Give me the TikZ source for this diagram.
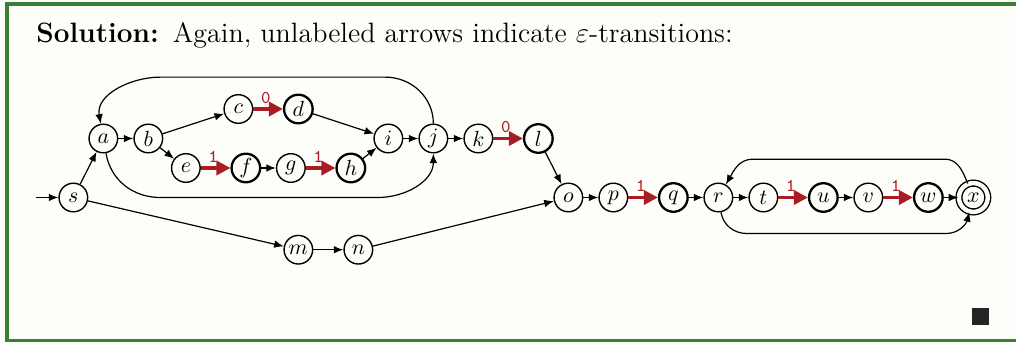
\documentclass[tikz,border=0pt]{standalone}
\usepackage{amsmath}
\usepackage{amssymb}
\usetikzlibrary{arrows.meta}
\usetikzlibrary{calc}
\definecolor{framegreen}{RGB}{58,128,52}
\definecolor{symbred}{RGB}{168,28,36}
\definecolor{paper}{RGB}{253,253,249}

\begin{document}
\begin{tikzpicture}[x=7.5pt,y=14.75pt,
    state/.style={circle,draw,line width=0.7pt,minimum size=14.3pt,inner sep=0pt,fill=paper,font=\fontsize{11}{13}\selectfont},
    boldstate/.style={state,line width=1.15pt},
    acceptstate/.style={state,minimum size=14.4pt,double=paper,line width=0.7pt,double distance=2.2pt},
    eps/.style={-{Latex[length=4.8pt,width=3.8pt]},line width=0.6pt},
    sym/.style={-{Triangle[length=7pt,width=7pt]},line width=1.8pt,draw=symbred},
    symlabel/.style={pos=0.42,above=1.5pt,text=symbred,font=\ttfamily\small,inner sep=0.5pt}]

    % page and frame
    \fill[paper] (-6.675pt,-72.75pt) rectangle (501.325pt,98.75pt);
    \useasboundingbox (-6.675pt,-72.75pt) rectangle (501.325pt,98.75pt);
    \draw[framegreen,line width=1.7pt] (506pt,96.7pt) -- (-3.2pt,96.7pt) -- (-3.2pt,-71.6pt) -- (506pt,-71.6pt);

    \node[anchor=base west,inner sep=0pt] (title) at (11.3pt,77.5pt)
        {\fontsize{14}{16}\selectfont\textbf{Solution:}\enspace Again, unlabeled arrows indicate $\varepsilon$-transitions:};

    % states
    \node[state] (s) at (4,0) {$s$};
    \node[state] (a) at (6,2) {$a$};
    \node[state] (b) at (9,2) {$b$};
    \node[state] (c) at (15,3) {$c$};
    \node[boldstate] (d) at (19,3) {$d$};
    \node[state] (e) at (11.5,1) {$e$};
    \node[boldstate] (f) at (15.5,1) {$f$};
    \node[state] (g) at (18.5,1) {$g$};
    \node[boldstate] (h) at (22.5,1) {$h$};
    \node[state] (i) at (25,2) {$i$};
    \node[state] (j) at (28,2) {$j$};
    \node[state] (k) at (31,2) {$k$};
    \node[boldstate] (l) at (35,2) {$l$};
    \node[state] (m) at (19,-1.77) {$m$};
    \node[state] (n) at (23,-1.77) {$n$};
    \node[state] (o) at (37,0) {$o$};
    \node[state] (p) at (40,0) {$p$};
    \node[boldstate] (q) at (44,0) {$q$};
    \node[state] (r) at (47,0) {$r$};
    \node[state] (t) at (50,0) {$t$};
    \node[boldstate] (u) at (54,0) {$u$};
    \node[state] (v) at (57,0) {$v$};
    \node[boldstate] (w) at (61,0) {$w$};
    \node[acceptstate] (x) at (64,0) {$x$};

    \node[fill=black!86,minimum size=8.5pt,inner sep=0pt] (qed) at (483.6pt,-59.5pt) {};

    % corners of the loops
    \coordinate (start) at (1.5,0);
    \coordinate (ja1) at (24.8,4.08);
    \coordinate (ja2) at (9.8,4.08);
    \coordinate (aj1) at (9.8,0);
    \coordinate (aj2) at (24.3,0);
    \coordinate (xr1) at (62.1,1.3);
    \coordinate (xr2) at (49.3,1.3);
    \coordinate (rx1) at (48.9,-1.22);
    \coordinate (rx2) at (62.2,-1.22);

    \draw[eps] (start) -- (s);
    \draw[eps] (s) -- (a);
    \draw[eps] (s) -- (m);
    \draw[eps] (m) -- (n);
    \draw[eps] (n) -- (o);
    \draw[eps] (a) -- (b);
    \draw[eps] (b) -- (c);
    \draw[eps] (b) -- (e);
    \draw[sym] (c) -- node[symlabel] {0} (d);
    \draw[eps] (d) -- (i);
    \draw[sym] (e) -- node[symlabel] {1} (f);
    \draw[eps] (f) -- (g);
    \draw[sym] (g) -- node[symlabel] {1} (h);
    \draw[eps] (h) -- (i);
    \draw[eps] (i) -- (j);
    \draw[eps] (j) -- (k);
    \draw[sym] (k) -- node[symlabel] {0} (l);
    \draw[eps] (l) -- (o);
    \draw[eps] (o) -- (p);
    \draw[sym] (p) -- node[symlabel] {1} (q);
    \draw[eps] (q) -- (r);
    \draw[eps] (r) -- (t);
    \draw[sym] (t) -- node[symlabel] {1} (u);
    \draw[eps] (u) -- (v);
    \draw[sym] (v) -- node[symlabel] {1} (w);
    \draw[eps] (w) -- (x);

    \draw[eps] (j) to[out=90,in=0] (ja1) -- (ja2) to[out=180,in=100] (a);
    \draw[eps] (a) to[out=-80,in=180] (aj1) -- (aj2) to[out=0,in=-90] (j);
    \draw[eps] (x) to[out=112,in=0] (xr1) -- (xr2) to[out=180,in=60] (r);
    \draw[eps] (r) to[out=-80,in=180] (rx1) -- (rx2) to[out=0,in=-105] (x);

\end{tikzpicture}
\end{document}
